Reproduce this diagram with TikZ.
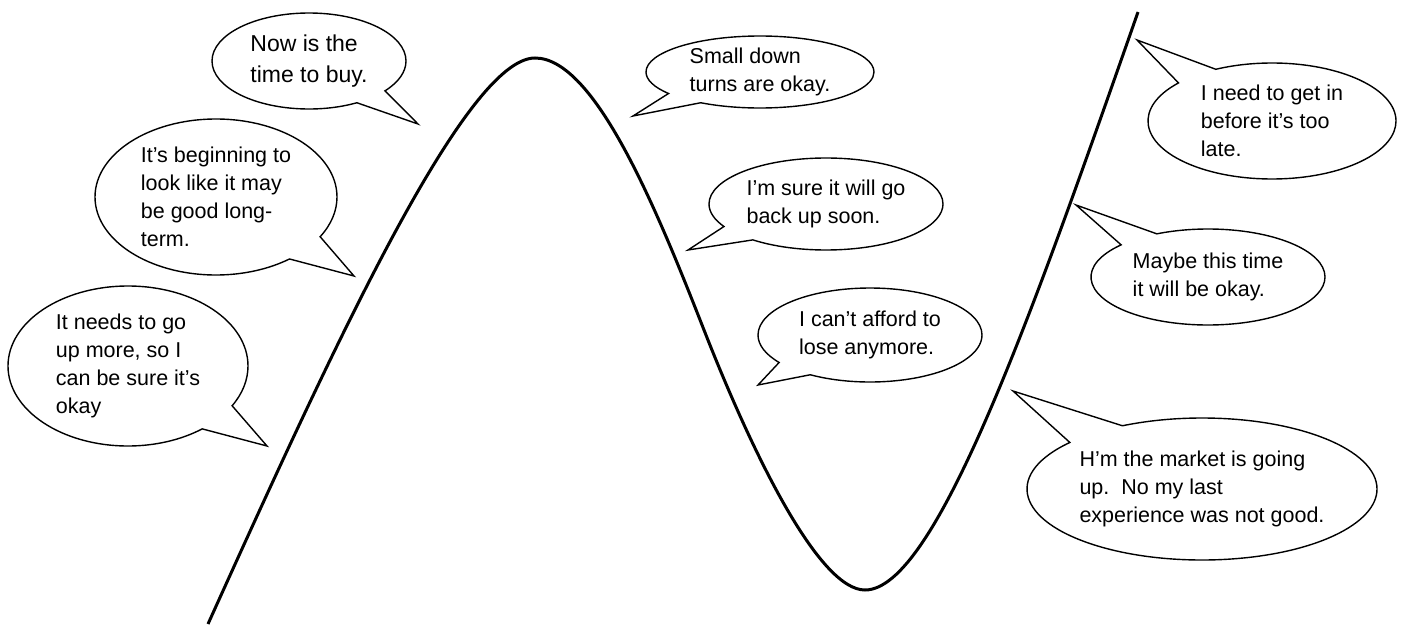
\documentclass[tikz,border=0pt]{standalone}
\usepackage{fontspec}
\setmainfont{Liberation Sans}
\usetikzlibrary{shapes.callouts}

\tikzset{
  bubble/.style={ellipse callout, draw, line width=1.4pt, fill=white,
    inner sep=0pt, align=left, callout pointer arc=22,
    font=\fontsize{21.5}{28}\selectfont},
}

\begin{document}
\begin{tikzpicture}[x=1pt, y=-1pt]
  \useasboundingbox (0,0) rectangle (1402,624);

  % 走势曲线
  \draw[line width=3pt] (208,624) .. controls (330,354) and (465,58) .. (535,58)
    .. controls (595,58) and (657,210) .. (704,330)
    .. controls (755,460) and (820,590) .. (865,590)
    .. controls (935,590) and (1030,320) .. (1138,12);

  % 气泡尖端
  \coordinate (tbuy) at (418,124);
  \coordinate (tlong) at (354,276);
  \coordinate (tup) at (267,446);
  \coordinate (tsmall) at (633,116);
  \coordinate (tback) at (688,250);
  \coordinate (tafford) at (758,385);
  \coordinate (tlate) at (1137,40);
  \coordinate (tmaybe) at (1076,205);
  \coordinate (tmarket) at (1013,391);

  % 上涨
  \node[bubble, minimum width=194pt, minimum height=96pt, font=\fontsize{23}{31}\selectfont,
    callout absolute pointer={(tbuy)}] (buy) at (309,61) {Now is the\\time to buy.};
  \node[bubble, minimum width=242pt, minimum height=156pt,
    callout absolute pointer={(tlong)}] (long) at (216,197)
    {It’s beginning to\\look like it may\\be good long-\\term.};
  \node[bubble, minimum width=240pt, minimum height=160pt,
    callout absolute pointer={(tup)}] (up) at (128,366)
    {It needs to go\\up more, so I\\can be sure it’s\\okay};

  % 下跌
  \node[bubble, minimum width=228pt, minimum height=72pt,
    callout absolute pointer={(tsmall)}] (small) at (760,72) {Small down\\turns are okay.};
  \node[bubble, minimum width=234pt, minimum height=92pt,
    callout absolute pointer={(tback)}] (back) at (826,204) {I’m sure it will go\\back up soon.};
  \node[bubble, minimum width=224pt, minimum height=94pt,
    callout absolute pointer={(tafford)}] (afford) at (870,335) {I can’t afford to\\lose anymore.};

  % 回升
  \node[bubble, minimum width=248pt, minimum height=116pt,
    callout absolute pointer={(tlate)}] (late) at (1272,121) {I need to get in\\before it’s too\\late.};
  \node[bubble, minimum width=234pt, minimum height=96pt,
    callout absolute pointer={(tmaybe)}] (maybe) at (1208,277) {Maybe this time\\it will be okay.};
  \node[bubble, minimum width=350pt, minimum height=142pt,
    callout absolute pointer={(tmarket)}] (market) at (1202,489)
    {H’m the market is going\\up.\ \ No my last\\experience was not good.};
\end{tikzpicture}
\end{document}
